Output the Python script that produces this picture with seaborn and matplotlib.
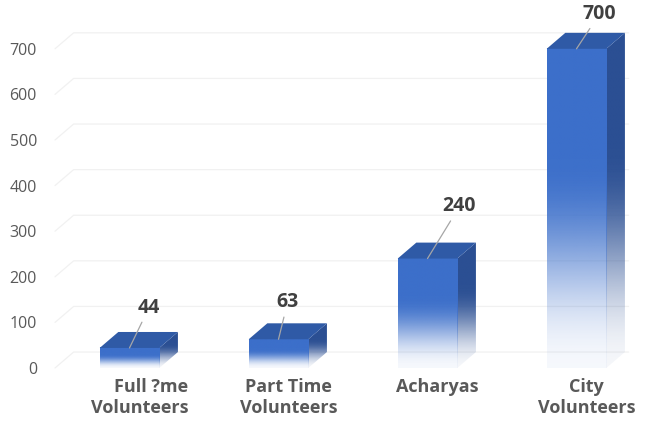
import numpy as np
import pandas as pd
import matplotlib
matplotlib.use("Agg")
import matplotlib.pyplot as plt
import matplotlib.transforms as mtransforms
from matplotlib.patches import Polygon
from matplotlib.colors import to_rgb
import seaborn as sns

# ---- data ----
categories = ["Full ?me\nVolunteers", "Part Time\nVolunteers", "Acharyas", "City\nVolunteers"]
values = [44, 63, 240, 700]
y_ticks = [0, 100, 200, 300, 400, 500, 600, 700]

# label placement (offset points from the bar's front-top centre)
label_offsets_pt = [(14, 29), (6.5, 26.5), (23, 37.5), (16.5, 25)]

sns.set_theme(style="white")
plt.rcParams["font.family"] = ["Open Sans", "DejaVu Sans"]

W, H = 664, 423
fig = plt.figure(figsize=(W / 100, H / 100), dpi=100)
ax = fig.add_axes([55 / W, 55 / H, 596 / W, 368 / H])

df = pd.DataFrame({"cat": categories, "val": values})
sns.barplot(data=df, x="cat", y="val", width=0.4, ax=ax, color="#3b6dc7")

XMIN, XMAX, YMIN, YMAX = -0.5, 3.5, 0, 807
DX, DY = 0.125, 35  # depth of the 3D effect in data units

front_rgb = np.array(to_rgb("#3c6fca"))
side_rgb = np.array(to_rgb("#2b4f93"))
top_rgb = "#2f5aa6"


def grad_img(rgb, n=300):
    t = np.linspace(0, 1, n)  # 0 top -> 1 bottom
    s = np.clip((t - 0.35) / 0.65, 0, 1)
    ease = 0.5 - 0.5 * np.cos(np.pi * s)
    alpha = 1.0 - 0.95 * ease
    img = np.zeros((n, 1, 4))
    img[:, 0, :3] = rgb
    img[:, 0, 3] = alpha
    return img


for p in list(ax.patches):
    x0, w, h = p.get_x(), p.get_width(), p.get_height()
    p.set_facecolor("none")
    p.set_edgecolor("none")
    # front face
    ax.imshow(grad_img(front_rgb), extent=(x0, x0 + w, 0, h), origin="upper",
              aspect="auto", zorder=3, interpolation="bilinear")
    # side face
    side = Polygon([(x0 + w, 0), (x0 + w, h), (x0 + w + DX, h + DY), (x0 + w + DX, DY)],
                   closed=True, facecolor="none", edgecolor="none", transform=ax.transData)
    ax.add_patch(side)
    im = ax.imshow(grad_img(side_rgb), extent=(x0 + w, x0 + w + DX, 0, h + DY),
                   origin="upper", aspect="auto", zorder=2, interpolation="bilinear")
    im.set_clip_path(side)
    # top face
    top = Polygon([(x0, h), (x0 + w, h), (x0 + w + DX, h + DY), (x0 + DX, h + DY)],
                  closed=True, facecolor=top_rgb, edgecolor="none", zorder=3)
    ax.add_patch(top)

# back-wall gridlines
for v in y_ticks:
    ax.plot([XMIN, XMIN + DX, XMAX - 0.15], [v, v + DY, v + DY],
            color="#f1f1f1", lw=0.9, zorder=0, clip_on=False)

ax.set_xlim(XMIN, XMAX)
ax.set_ylim(YMIN, YMAX)
ax.set_yticks(y_ticks)
ax.set_xlabel("")
ax.set_ylabel("")
for s in ax.spines.values():
    s.set_visible(False)
ax.grid(False)

ax.tick_params(axis="y", length=0, pad=13, labelsize=11.5, labelcolor="#595959")
ax.tick_params(axis="x", length=0, pad=7, labelsize=13, labelcolor="#595959")
shift = mtransforms.ScaledTranslation(0.1, 0, fig.dpi_scale_trans)
for lbl in ax.get_xticklabels():
    lbl.set_fontweight("bold")
    lbl.set_linespacing(1.2)
    lbl.set_transform(lbl.get_transform() + shift)
ax.get_xticklabels()[0].set_multialignment("right")

# data labels with leader lines
for p, v, off in zip(ax.patches[:len(values)], values, label_offsets_pt):
    cx = p.get_x() + p.get_width() / 2
    ax.annotate(str(v), xy=(cx, v), xytext=off, textcoords="offset points",
                ha="center", va="center", fontsize=14, fontweight="bold",
                color="#404040", zorder=6,
                arrowprops=dict(arrowstyle="-", color="#a6a6a6", lw=0.9,
                                shrinkA=1, shrinkB=0))

fig.savefig("out.png", dpi=100)
